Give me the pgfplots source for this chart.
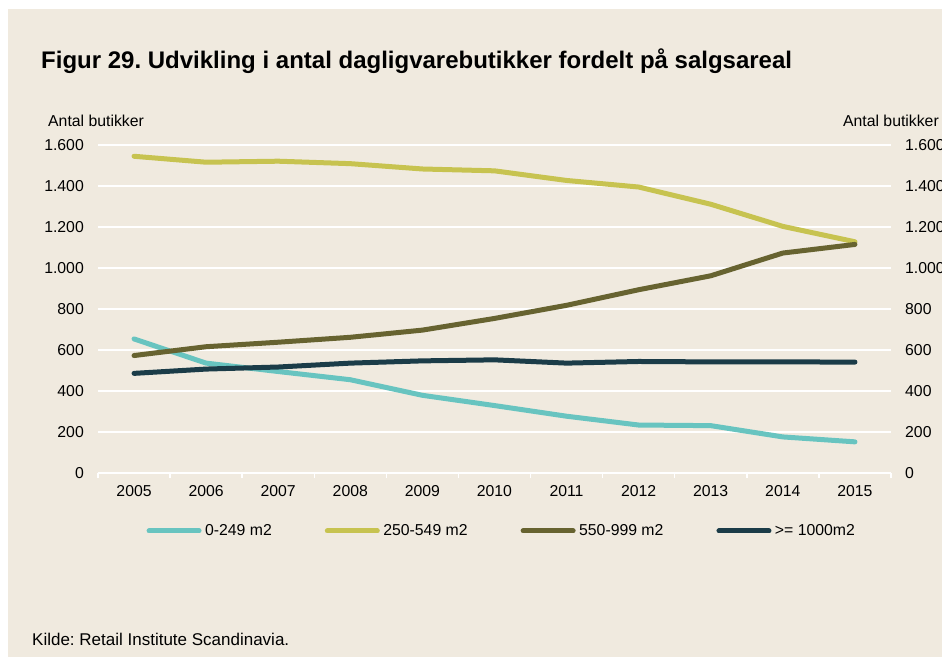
\documentclass[border=0pt]{standalone}
\usepackage{pgfplots}
\pgfplotsset{compat=1.18}
\usepackage{fontspec}
\setmainfont{Liberation Sans}
\definecolor{bg}{RGB}{240,234,223}
\definecolor{cteal}{RGB}{104,196,192}
\definecolor{cyel}{RGB}{199,195,80}
\definecolor{colive}{RGB}{103,99,48}
\definecolor{cnavy}{RGB}{27,60,72}
\newcommand{\tf}{\fontsize{15.8bp}{18bp}\selectfont}
\frenchspacing
\begin{document}
\begin{tikzpicture}
\useasboundingbox (0,0) rectangle (942bp,-657bp);
\fill[white] (0,0) rectangle (942bp,-657bp);
\fill[bg] (8bp,-9bp) rectangle (942bp,-657bp);
\node[anchor=base west, inner sep=0pt, font=\fontsize{24bp}{28bp}\selectfont\bfseries] at (41bp,-68bp) {Figur 29. Udvikling i antal dagligvarebutikker fordelt på salgsareal};
\node[anchor=base west, inner sep=0pt, font=\tf] at (48bp,-126bp) {Antal butikker};
\node[anchor=base east, inner sep=0pt, font=\tf] at (939bp,-126bp) {Antal butikker};
\node[anchor=base west, inner sep=0pt, font=\fontsize{17bp}{20bp}\selectfont] at (32bp,-645bp) {Kilde: Retail Institute Scandinavia.};
\begin{axis}[
  at={(98bp,-473bp)}, anchor=south west,
  scale only axis, width=793bp, height=328bp,
  xmin=2004.5, xmax=2015.5, ymin=0, ymax=1600,
  clip=false,
  axis line style={draw=none},
  xtick={2005,...,2015},
  xticklabels={2005,2006,2007,2008,2009,2010,2011,2012,2013,2014,2015},
  minor xtick={2004.5,2005.5,...,2015.5},
  ytick={0,200,...,1600},
  xtick pos=bottom, ytick pos=left,
  tick align=outside,
  major tick length=0pt,
  minor tick length=5bp,
  minor tick style={white, line width=1.5bp},
  ymajorgrids,
  major grid style={white, line width=1.8bp},
  ticklabel style={font=\tf, inner sep=0pt},
  yticklabel style={anchor=east, xshift=-14bp},
  xticklabel style={anchor=north, yshift=-12bp},
  /pgf/number format/.cd, 1000 sep={.}, assume math mode=true,
  /pgfplots/.cd,
  legend columns=4,
  legend style={draw=none, fill=none, at={(0.061,-0.1768)}, anchor=west,
    font=\tf, inner sep=0pt, nodes={inner sep=0pt},
    /tikz/every odd column/.append style={column sep=3.5bp},
    /tikz/every even column/.append style={column sep=53bp}},
  legend image code/.code={\draw[#1, line width=5bp, line cap=round] (0bp,0bp) -- (50bp,0bp);},
  every axis plot/.append style={line width=5bp, line cap=round, line join=round},
]
\addplot[cteal] coordinates {(2005,654)(2006,536)(2007,495)(2008,455)(2009,379)(2010,329)(2011,277)(2012,234)(2013,231)(2014,176)(2015,152)};
\addlegendentry{0-249 m2}
\addplot[cyel] coordinates {(2005,1545)(2006,1516)(2007,1521)(2008,1509)(2009,1483)(2010,1474)(2011,1427)(2012,1395)(2013,1311)(2014,1203)(2015,1128)};
\addlegendentry{250-549 m2}
\addplot[colive] coordinates {(2005,573)(2006,616)(2007,638)(2008,662)(2009,697)(2010,754)(2011,818)(2012,894)(2013,962)(2014,1073)(2015,1115)};
\addlegendentry{550-999 m2}
\addplot[cnavy] coordinates {(2005,486)(2006,507)(2007,517)(2008,536)(2009,547)(2010,552)(2011,536)(2012,544)(2013,542)(2014,542)(2015,541)};
\addlegendentry{>= 1000m2}
\end{axis}
\begin{axis}[
  at={(98bp,-473bp)}, anchor=south west,
  scale only axis, width=793bp, height=328bp,
  xmin=2004.5, xmax=2015.5, ymin=0, ymax=1600,
  hide x axis,
  axis line style={draw=none},
  ytick={0,200,...,1600},
  ytick pos=right, yticklabel pos=right,
  major tick length=0pt,
  ticklabel style={font=\tf, inner sep=0pt},
  yticklabel style={anchor=west, xshift=14bp},
  /pgf/number format/.cd, 1000 sep={.}, assume math mode=true,
]
\addplot[draw=none] coordinates {(2005,0)};
\end{axis}
\end{tikzpicture}
\end{document}
